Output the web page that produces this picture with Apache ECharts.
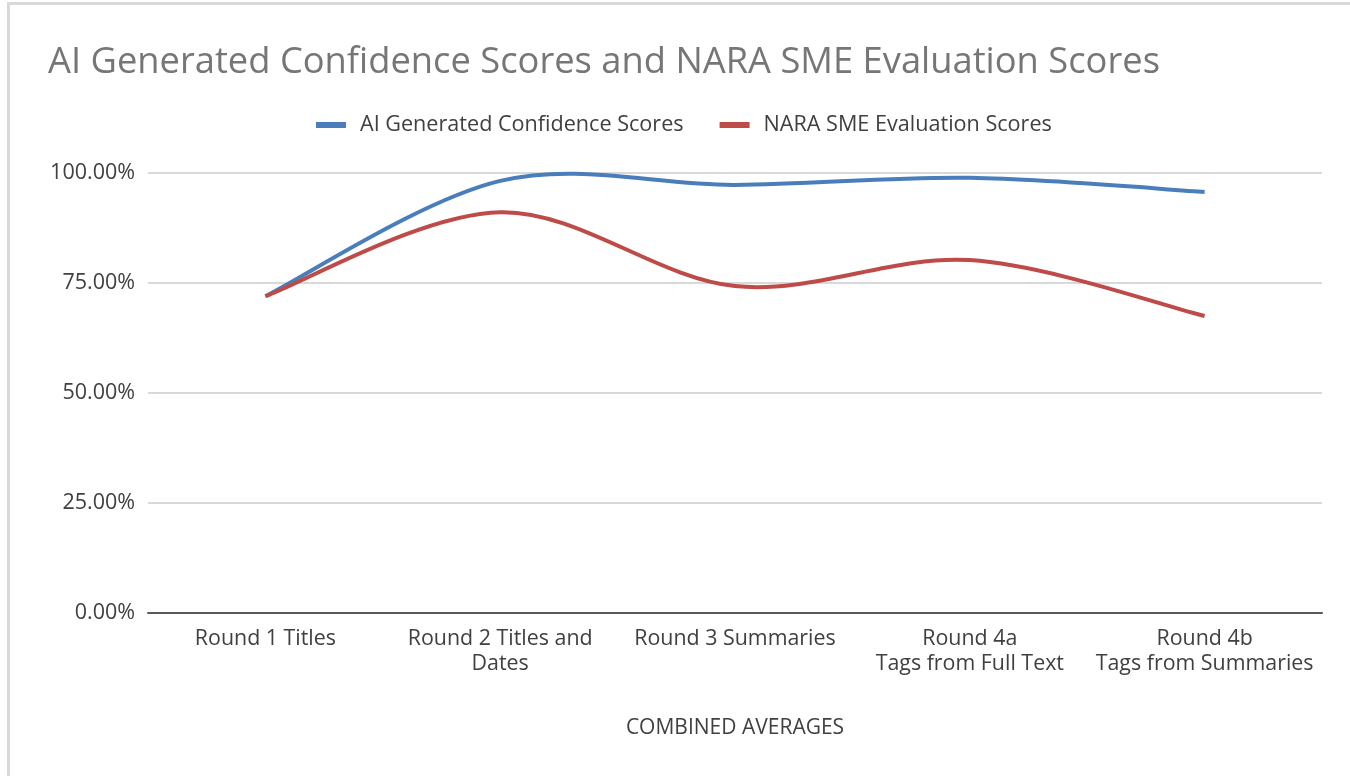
<!DOCTYPE html>
<html>
<head>
<meta charset="utf-8">
<script src="https://cdn.jsdelivr.net/npm/echarts@6/dist/echarts.min.js"></script>
<style>
  html, body { margin: 0; padding: 0; background: #fff; }
  #frame { position: absolute; left: 7px; top: 2px; width: 1343px; height: 774px; border-left: 3px solid #d9d9d9; border-top: 3px solid #d9d9d9; box-sizing: border-box; }
  #chart { position: absolute; left: 0; top: 0; width: 1350px; height: 776px; }
</style>
</head>
<body>
<div id="frame"></div>
<div id="chart"></div>
<script>
const categories = [
  'Round 1 Titles',
  'Round 2 Titles and\nDates',
  'Round 3 Summaries',
  'Round 4a\nTags from Full Text',
  'Round 4b\nTags from Summaries'
];
const aiScores = [72.0, 98.2, 97.3, 98.9, 95.7];
const naraScores = [72.0, 91.1, 74.3, 80.2, 67.5];
const yTicks = [0, 25, 50, 75, 100];

const font = '"Open Sans", "Liberation Sans", sans-serif';

// Excel-like smoothed line: bezier through the points, built from api.coord
function smoothLine(values, color) {
  return function (params, api) {
    if (params.dataIndex !== 0) return null;
    const pts = values.map((v, i) => api.coord([i, v]));
    const n = pts.length;
    let d = 'M' + pts[0][0] + ' ' + pts[0][1];
    for (let i = 0; i < n - 1; i++) {
      const p0 = pts[Math.max(i - 1, 0)], p1 = pts[i], p2 = pts[i + 1], p3 = pts[Math.min(i + 2, n - 1)];
      const c1x = p1[0] + (p2[0] - p0[0]) / 6, c1y = p1[1] + (p2[1] - p0[1]) / 6;
      const c2x = p2[0] - (p3[0] - p1[0]) / 6, c2y = p2[1] - (p3[1] - p1[1]) / 6;
      d += ' C' + c1x + ' ' + c1y + ' ' + c2x + ' ' + c2y + ' ' + p2[0] + ' ' + p2[1];
    }
    return {
      type: 'path',
      shape: { pathData: d },
      style: { fill: null, stroke: color, lineWidth: 4, lineCap: 'butt', lineJoin: 'round' }
    };
  };
}

const chart = echarts.init(document.getElementById('chart'));
chart.setOption({
  animation: false,
  title: {
    text: 'AI Generated Confidence Scores and NARA SME Evaluation Scores',
    left: 43,
    top: 40,
    textStyle: { fontFamily: font, fontSize: 36.3, fontWeight: 'normal', color: '#767676' }
  },
  legend: {
    top: 109,
    left: 311,
    itemWidth: 30,
    itemHeight: 6,
    itemGap: 36,
    icon: 'rect',
    textStyle: { fontFamily: font, fontSize: 21.6, color: '#404040', padding: [0, 0, 0, 9] },
    data: ['AI Generated Confidence Scores', 'NARA SME Evaluation Scores']
  },
  grid: { left: 148, right: 28, top: 173, bottom: 163 },
  xAxis: {
    type: 'category',
    data: categories,
    boundaryGap: true,
    axisTick: { show: false },
    axisLine: { lineStyle: { color: '#595959', width: 2 } },
    axisLabel: { interval: 0, fontFamily: font, fontSize: 21.4, color: '#404040', margin: 13, lineHeight: 25 },
    name: 'COMBINED AVERAGES',
    nameLocation: 'middle',
    nameGap: 105,
    nameTextStyle: { fontFamily: font, fontSize: 21, color: '#404040' }
  },
  yAxis: {
    type: 'value',
    min: yTicks[0],
    max: yTicks[yTicks.length - 1],
    interval: 25,
    axisLine: { show: false },
    axisTick: { show: false },
    splitLine: { lineStyle: { color: '#d9d9d9', width: 2 } },
    axisLabel: {
      fontFamily: font, fontSize: 21.5, color: '#404040', margin: 13,
      formatter: v => v.toFixed(2) + '%'
    }
  },
  series: [
    {
      name: 'AI Generated Confidence Scores',
      type: 'custom',
      data: aiScores.map((v, i) => [i, v]),
      itemStyle: { color: '#4a7ebb' },
      renderItem: smoothLine(aiScores, '#4a7ebb')
    },
    {
      name: 'NARA SME Evaluation Scores',
      type: 'custom',
      data: naraScores.map((v, i) => [i, v]),
      itemStyle: { color: '#be4b48' },
      renderItem: smoothLine(naraScores, '#be4b48')
    }
  ]
});
</script>
</body>
</html>
